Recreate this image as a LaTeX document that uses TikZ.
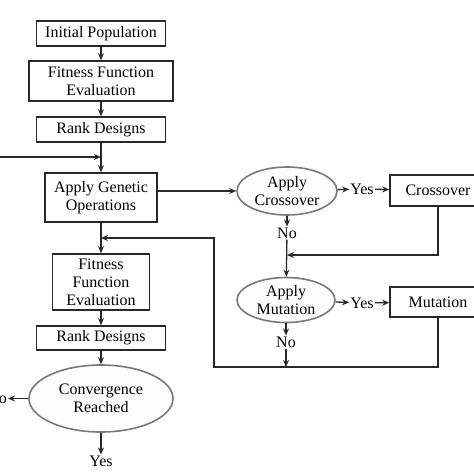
\documentclass[tikz,border=0pt]{standalone}
\usepackage{fontspec}
\setmainfont{Liberation Serif}
\usetikzlibrary{arrows.meta, shapes.geometric, positioning, calc}
\definecolor{boxline}{RGB}{40,40,40}
\definecolor{ovalline}{RGB}{120,120,120}
\definecolor{ovalfill}{RGB}{253,253,253}

\begin{document}
\begin{tikzpicture}[x=1pt, y=-1pt,
        every node/.style={font=\fontsize{16}{18}\selectfont},
        blk/.style={draw=boxline, line width=1.6pt, fill=white, align=center,
                    minimum width=#1, inner sep=2pt},
        blk/.default=129pt,
        oval/.style={ellipse, draw=ovalline, line width=1.6pt, fill=ovalfill,
                     align=center, minimum width=#1, inner sep=0pt},
        lbl/.style={inner sep=1pt},
        arr/.style={-{Stealth[length=7pt, width=6pt]}, line width=1.3pt, boxline},
        ln/.style={line width=1.3pt, boxline}
      ]
        \useasboundingbox[fill=white] (0,0) rectangle (474,474);
        % main column
        \node[blk, minimum height=25pt]                 (init) at (101,33.5)  {Initial Population};
        \node[blk=144pt, minimum height=40pt]           (ffe)  at (101,81)    {Fitness Function\\Evaluation};
        \node[blk, minimum height=25pt]                 (rank) at (101,129.5) {Rank Designs};
        \node[blk=112pt, minimum height=49pt]           (ago)  at (101,197.5) {Apply Genetic\\Operations};
        \node[blk=97pt, minimum height=56pt]            (ffe2) at (101,282)   {Fitness\\Function\\Evaluation};
        \node[blk, minimum height=24pt]                 (rank2) at (101,338)  {Rank Designs};
        \node[oval=144pt, minimum height=67pt]          (conv) at (101,398.5) {Convergence\\Reached};
        \node[lbl]                                      (cno)  at (-3,398.5)  {No};
        \node[lbl]                                      (cyes) at (101,461)   {Yes};
        % operator branch
        \node[oval=100pt, minimum height=48pt]          (cross) at (287,191)  {Apply\\Crossover};
        \node[lbl]                                      (cryes) at (362,189)  {Yes};
        \node[blk=96pt, minimum height=31pt]            (crbox) at (438,190.5) {Crossover};
        \node[lbl]                                      (crno) at (287,233)   {No};
        \node[oval=98pt, minimum height=45pt]           (mut)  at (286,300)   {Apply\\Mutation};
        \node[lbl]                                      (muyes) at (362,303)  {Yes};
        \node[blk=96pt, minimum height=30pt]            (mubox) at (438,302)  {Mutation};
        \node[lbl]                                      (muno) at (286,342)   {No};
        \coordinate (feed) at (0,157);
        \coordinate (join) at (101,157);
        \coordinate (back) at (101,238);
        \coordinate (crjoin) at (287,255);
        \coordinate (mujoin) at (286,367);

        \draw[arr] (init) -- (ffe);
        \draw[arr] (ffe) -- (rank);
        \draw[ln] (rank) -- (join);
        \draw[arr] (feed) -- (join);
        \draw[arr] (join) -- (ago);
        \draw[arr] (ago) -- (ffe2);
        \draw[arr] (ffe2) -- (rank2);
        \draw[arr] (rank2) -- (conv);
        \draw[arr] (conv) -- (cno);
        \draw[arr] (conv) -- (cyes);
        % genetic operations
        \draw[arr] (ago.east |- cross) -- (cross);
        \draw[arr] (cross) -- (cryes);
        \draw[arr] (cryes) -- (crbox);
        \draw[arr] (cross) -- (crno);
        \draw[arr] (crno) -- (mut);
        \draw[arr] (crbox.south) |- (crjoin);
        \draw[arr] (mut) -- (muyes);
        \draw[arr] (muyes) -- (mubox);
        \draw[arr] (mut) -- (muno);
        \draw[arr] (muno) -- (mujoin);
        % loop back
        \draw[arr] (mubox.south) |- (214,367) |- (back);
      \end{tikzpicture}
\end{document}
